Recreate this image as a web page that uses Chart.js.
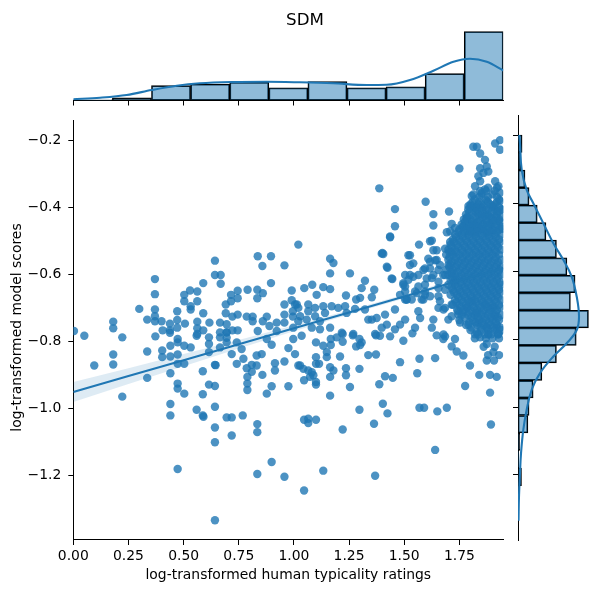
<!DOCTYPE html>
<html><head><meta charset="utf-8">
<script src="https://cdn.jsdelivr.net/npm/chart.js@4.4.1/dist/chart.umd.min.js"></script>
<style>
html,body{margin:0;padding:0;width:601px;height:593px;overflow:hidden;background:#fff;}
canvas{position:absolute;display:block;}
#cTop{left:0;top:0;}
#cMain{left:0;top:105px;}
#cRight{left:508px;top:110px;}
</style></head><body>
<canvas id="cTop" width="510" height="111" style="width:510px;height:111px"></canvas>
<canvas id="cMain" width="510" height="488" style="width:510px;height:488px"></canvas>
<canvas id="cRight" width="95" height="435" style="width:95px;height:435px"></canvas>
<script>
// ---------- text ----------
const chartTitle = 'SDM';
const xTitle = 'log-transformed human typicality ratings';
const yTitle = 'log-transformed model scores';

// ---------- axes ----------
const xRange = [0, 1.949];
const yRange = [-1.392, -0.139];
const xTicks = [0, 0.25, 0.5, 0.75, 1.0, 1.25, 1.5, 1.75];
const yTicks = [-1.2, -1.0, -0.8, -0.6, -0.4, -0.2];

// ---------- scatter points ----------
const lowLeftPoints = [[0.003,-0.768],[0.05,-0.782],[0.095,-0.871],[0.181,-0.838],[0.181,-0.868],[0.222,-0.787],[0.222,-0.964],[0.335,-0.829],[0.335,-0.908],[0.372,-0.784],[0.403,-0.826],[0.403,-0.846],[0.44,-0.812],[0.44,-0.844],[0.44,-0.894],[0.44,-0.986],[0.44,-1.02],[0.473,-0.792],[0.473,-0.802],[0.473,-0.838],[0.473,-0.866],[0.473,-0.925],[0.473,-0.94],[0.473,-1.18],[0.503,-0.812],[0.503,-0.866],[0.503,-0.955],[0.532,-0.817],[0.559,-0.782],[0.559,-1.003],[0.587,-0.888],[0.587,-0.957],[0.587,-1.02],[0.59,-1.024],[0.615,-0.787],[0.615,-0.807],[0.615,-0.831],[0.615,-0.928],[0.642,-0.869],[0.645,-0.87],[0.642,-0.932],[0.642,-0.994],[0.642,-1.056],[0.642,-1.10],[0.642,-1.333],[0.665,-0.817],[0.665,-0.787],[0.665,-0.772],[0.695,-1.026],[0.718,-1.026],[0.695,-0.802],[0.695,-0.788],[0.695,-0.772],[0.718,-0.837],[0.718,-1.08],[0.741,-0.866],[0.741,-0.802],[0.763,-0.822],[0.771,-0.851],[0.768,-1.02],[0.786,-0.879],[0.809,-0.869],[0.809,-0.89],[0.789,-0.905],[0.789,-0.925],[0.789,-0.944],[0.831,-0.841],[0.854,-0.837],[0.831,-0.871],[0.834,-1.046],[0.834,-1.07],[0.834,-1.195],[0.857,-0.899],[0.877,-0.955],[0.877,-0.792],[0.899,-0.809],[0.899,-0.933],[0.899,-1.159],[0.914,-0.864],[0.914,-0.886],[0.957,-1.203],[0.957,-0.859],[0.975,-0.933],[0.975,-0.819],[0.997,-0.792],[1.005,-0.837],[1.02,-0.871]];

const upLeftPoints = [[0.181,-0.74],[0.181,-0.76],[0.299,-0.702],[0.335,-0.734],[0.37,-0.613],[0.37,-0.658],[0.37,-0.704],[0.37,-0.724],[0.37,-0.739],[0.4,-0.739],[0.405,-0.766],[0.438,-0.746],[0.438,-0.766],[0.438,-0.773],[0.471,-0.709],[0.471,-0.735],[0.471,-0.758],[0.503,-0.66],[0.503,-0.679],[0.506,-0.746],[0.529,-0.647],[0.532,-0.694],[0.532,-0.704],[0.562,-0.65],[0.562,-0.679],[0.562,-0.74],[0.562,-0.76],[0.562,-0.777],[0.589,-0.625],[0.589,-0.715],[0.589,-0.766],[0.617,-0.743],[0.642,-0.558],[0.642,-0.601],[0.668,-0.601],[0.668,-0.627],[0.665,-0.743],[0.691,-0.689],[0.691,-0.715],[0.695,-0.748],[0.695,-0.772],[0.715,-0.66],[0.715,-0.679],[0.721,-0.725],[0.721,-0.766],[0.745,-0.648],[0.745,-0.67],[0.745,-0.719],[0.745,-0.766],[0.79,-0.645],[0.786,-0.725],[0.813,-0.725],[0.813,-0.739],[0.836,-0.545],[0.857,-0.574],[0.896,-0.545],[0.957,-0.572],[0.896,-0.625],[0.834,-0.645],[0.834,-0.67],[0.859,-0.655],[0.836,-0.768],[0.859,-0.739],[0.877,-0.725],[0.889,-0.753],[0.922,-0.743],[0.922,-0.768],[0.957,-0.689],[0.957,-0.719],[0.957,-0.743],[0.99,-0.647],[0.99,-0.676],[0.995,-0.709],[0.995,-0.725],[1.02,-0.51],[1.013,-0.689],[1.02,-0.739],[0.997,-0.758]];

const lowRightPoints = [[1.035,-0.782],[1.046,-0.915],[1.046,-1.033],[1.065,-1.043],[1.065,-1.03],[1.1,-1.033],[1.046,-1.244],[1.1,-0.802],[1.1,-0.846],[1.1,-0.866],[1.1,-0.92],[1.1,-0.928],[1.028,-0.871],[1.043,-0.881],[1.065,-0.886],[1.081,-0.891],[1.088,-0.9],[1.073,-0.905],[1.114,-0.866],[1.133,-0.812],[1.149,-0.831],[1.149,-0.846],[1.167,-0.81],[1.167,-0.792],[1.194,-0.787],[1.221,-0.777],[1.221,-0.8],[1.164,-0.876],[1.179,-0.886],[1.164,-0.905],[1.164,-0.961],[1.133,-1.185],[1.209,-0.844],[1.221,-1.062],[1.236,-0.879],[1.236,-0.9],[1.254,-0.935],[1.267,-0.781],[1.282,-0.814],[1.3,-0.81],[1.307,-0.802],[1.297,-0.792],[1.297,-0.881],[1.297,-1.003],[1.337,-0.84],[1.372,-0.838],[1.363,-1.045],[1.368,-1.2],[1.372,-0.781],[1.39,-0.782],[1.436,-0.784],[1.387,-0.927],[1.403,-0.985],[1.424,-1.014],[1.413,-0.903],[1.448,-0.908],[1.481,-0.861],[1.496,-0.797],[1.537,-0.775],[1.559,-0.894],[1.569,-0.851],[1.569,-0.997],[1.59,-0.997],[1.64,-0.849],[1.64,-1.123],[1.65,-1.008],[1.693,-0.997],[1.647,-0.781],[1.677,-0.792],[1.685,-0.784],[1.73,-0.792],[1.715,-0.814],[1.738,-0.829],[1.768,-0.841],[1.798,-0.871],[1.776,-0.932],[1.84,-0.899],[1.829,-0.773],[1.844,-0.787],[1.874,-0.807],[1.881,-0.778],[1.904,-0.831],[1.874,-0.856],[1.907,-0.856],[1.889,-0.899],[1.919,-0.905],[1.889,-0.952],[1.893,-1.047],[1.927,-0.775]];

const midPoints = [[1.387,-0.342],[1.458,-0.404],[1.458,-0.455],[1.436,-0.486],[1.401,-0.535],[1.405,-0.538],[1.164,-0.552],[1.179,-0.565],[1.164,-0.596],[1.254,-0.596],[1.424,-0.579],[1.446,-0.613],[1.322,-0.618],[1.307,-0.64],[1.364,-0.645],[1.353,-0.667],[1.047,-0.64],[1.083,-0.63],[1.133,-0.637],[1.164,-0.643],[1.103,-0.66],[1.236,-0.662],[1.282,-0.674],[1.3,-0.669],[1.504,-0.601],[1.519,-0.615],[1.496,-0.63],[1.504,-0.65],[1.511,-0.674],[1.519,-0.542],[1.005,-0.689],[1.02,-0.699],[1.065,-0.689],[1.065,-0.709],[1.096,-0.699],[1.133,-0.694],[1.171,-0.694],[1.201,-0.699],[1.232,-0.694],[1.239,-0.714],[1.277,-0.702],[1.322,-0.704],[1.353,-0.734],[1.375,-0.729],[1.413,-0.719],[1.458,-0.704],[1.504,-0.734],[1.481,-0.749],[1.458,-0.763],[1.028,-0.724],[1.058,-0.734],[1.096,-0.724],[1.118,-0.739],[1.141,-0.714],[1.081,-0.758],[1.118,-0.763],[1.164,-0.758],[1.217,-0.773],[1.269,-0.777],[1.368,-0.777],[1.398,-0.758],[1.421,-0.749],[1.337,-0.734],[1.436,-0.488],[1.398,-0.537],[1.541,-0.566],[1.421,-0.576],[1.443,-0.611],[1.541,-0.606],[1.496,-0.625],[1.481,-0.66],[1.557,-0.655],[1.511,-0.674]];

const upRightPoints = [[1.75,-0.283],[1.597,-0.382],[1.632,-0.419],[1.632,-0.453],[1.703,-0.411],[1.715,-0.448],[1.73,-0.46],[1.708,-0.47],[1.783,-0.434],[1.798,-0.448],[1.821,-0.463],[1.791,-0.47],[1.813,-0.218],[1.829,-0.218],[1.844,-0.238],[1.866,-0.257],[1.874,-0.277],[1.844,-0.282],[1.859,-0.296],[1.881,-0.292],[1.912,-0.208],[1.934,-0.198],[1.934,-0.227],[1.836,-0.306],[1.844,-0.321],[1.821,-0.336],[1.866,-0.345],[1.844,-0.35],[1.813,-0.36],[1.912,-0.321],[1.927,-0.336],[1.934,-0.355],[1.934,-0.38],[1.912,-0.39],[1.806,-0.365],[1.851,-0.355],[1.874,-0.38],[1.806,-0.395],[1.836,-0.39],[1.791,-0.395],[1.821,-0.4],[1.851,-0.4],[1.881,-0.405],[1.904,-0.395],[1.919,-0.41],[1.942,-0.405],[1.783,-0.431],[1.768,-0.455],[1.836,-0.42],[1.866,-0.424],[1.897,-0.429],[1.927,-0.439],[1.889,-0.448],[1.859,-0.448],[1.829,-0.443],[1.806,-0.458],[1.851,-0.463],[1.904,-0.468],[1.942,-0.463],[1.821,-0.473],[1.874,-0.473]];

const clusterEdgePoints = [[1.567,-0.51],[1.617,-0.5],[1.647,-0.527],[1.647,-0.556],[1.617,-0.561],[1.594,-0.581],[1.564,-0.601],[1.526,-0.542],[1.526,-0.571],[1.526,-0.601],[1.504,-0.635],[1.693,-0.473],[1.708,-0.502],[1.685,-0.522],[1.715,-0.532],[1.655,-0.586],[1.625,-0.61],[1.594,-0.63],[1.564,-0.635],[1.549,-0.65],[1.655,-0.621],[1.685,-0.601],[1.715,-0.596],[1.7,-0.571],[1.73,-0.615],[1.504,-0.674],[1.534,-0.674],[1.579,-0.674],[1.594,-0.66],[1.655,-0.664],[1.685,-0.645],[1.655,-0.699],[1.678,-0.704],[1.715,-0.724],[1.745,-0.719],[1.783,-0.699],[1.806,-0.679],[1.866,-0.689],[1.897,-0.699],[1.912,-0.724],[1.829,-0.714],[1.564,-0.709],[1.572,-0.729],[1.632,-0.734],[1.7,-0.734],[1.549,-0.758],[1.625,-0.758],[1.678,-0.778],[1.753,-0.743],[1.791,-0.749],[1.836,-0.743],[1.874,-0.758],[1.919,-0.758],[1.821,-0.778],[1.881,-0.778],[1.927,-0.778],[1.625,-0.498],[1.632,-0.527],[1.609,-0.552],[1.64,-0.557],[1.662,-0.571],[1.617,-0.581],[1.587,-0.586],[1.602,-0.611],[1.632,-0.601],[1.677,-0.601],[1.594,-0.65],[1.617,-0.664],[1.655,-0.64],[1.587,-0.674],[1.662,-0.679],[1.685,-0.699],[1.715,-0.689],[1.745,-0.709]];

// dense core of the cloud: rows of [score, [ratings...]]
const denseRows = [
 [-0.34,[1.88,1.92]],
 [-0.36,[1.85,1.90]],
 [-0.375,[1.82,1.87,1.93]],
 [-0.39,[1.80,1.85,1.89]],
 [-0.405,[1.79,1.83,1.87,1.91,1.94]],
 [-0.42,[1.78,1.81,1.85,1.88,1.92]],
 [-0.435,[1.77,1.80,1.84,1.87,1.90,1.93]],
 [-0.45,[1.76,1.79,1.82,1.86,1.89,1.92]],
 [-0.465,[1.75,1.78,1.81,1.84,1.87,1.90,1.93]],
 [-0.48,[1.73,1.76,1.79,1.82,1.85,1.88,1.91,1.94]],
 [-0.495,[1.72,1.75,1.78,1.81,1.84,1.87,1.90,1.93]],
 [-0.51,[1.71,1.74,1.77,1.80,1.83,1.86,1.89,1.92]],
 [-0.525,[1.70,1.73,1.76,1.79,1.82,1.85,1.88,1.91,1.94]],
 [-0.54,[1.69,1.72,1.75,1.78,1.81,1.84,1.87,1.90,1.93]],
 [-0.555,[1.70,1.73,1.76,1.79,1.82,1.85,1.88,1.91,1.94]],
 [-0.57,[1.71,1.74,1.77,1.80,1.83,1.86,1.89,1.92]],
 [-0.585,[1.69,1.72,1.75,1.78,1.81,1.84,1.87,1.90,1.93]],
 [-0.60,[1.70,1.73,1.76,1.79,1.82,1.85,1.88,1.91,1.94]],
 [-0.615,[1.71,1.74,1.77,1.80,1.83,1.86,1.89,1.92]],
 [-0.63,[1.70,1.73,1.76,1.79,1.82,1.85,1.88,1.91,1.94]],
 [-0.645,[1.72,1.75,1.78,1.81,1.84,1.87,1.90,1.93]],
 [-0.66,[1.71,1.74,1.77,1.80,1.83,1.86,1.89,1.92]],
 [-0.675,[1.73,1.76,1.79,1.82,1.85,1.88,1.91,1.94]],
 [-0.69,[1.72,1.75,1.78,1.81,1.84,1.87,1.90,1.93]],
 [-0.705,[1.74,1.77,1.80,1.83,1.86,1.89,1.92]],
 [-0.72,[1.76,1.79,1.82,1.85,1.88,1.91,1.94]],
 [-0.735,[1.75,1.81,1.84,1.87,1.90,1.93]],
 [-0.75,[1.78,1.83,1.86,1.89,1.92]],
 [-0.765,[1.80,1.85,1.88,1.91,1.94]],
 [-0.79,[1.82,1.87,1.90,1.93]],
 [-0.815,[1.86,1.91]],
 [-0.84,[1.88,1.93]]
];
// second, interleaved layer of the dense core
const denseRows2 = [
 [-0.35,[1.87,1.91]],
 [-0.3675,[1.84,1.88,1.92]],
 [-0.3825,[1.81,1.84,1.88,1.92]],
 [-0.3975,[1.80,1.83,1.86,1.90,1.93]],
 [-0.4125,[1.795,1.825,1.855,1.895,1.925]],
 [-0.4275,[1.785,1.82,1.855,1.885,1.915,1.94]],
 [-0.4425,[1.775,1.81,1.835,1.875,1.905,1.935]],
 [-0.4575,[1.765,1.795,1.83,1.855,1.885,1.915,1.94]],
 [-0.4725,[1.745,1.77,1.80,1.83,1.86,1.89,1.92]],
 [-0.4875,[1.735,1.765,1.795,1.825,1.855,1.885,1.915]],
 [-0.5025,[1.725,1.755,1.785,1.815,1.845,1.875,1.905,1.935]],
 [-0.5175,[1.715,1.745,1.775,1.805,1.835,1.865,1.895,1.925]],
 [-0.5325,[1.705,1.735,1.765,1.795,1.825,1.855,1.885,1.915]],
 [-0.5475,[1.705,1.735,1.765,1.795,1.825,1.855,1.885,1.915]],
 [-0.5625,[1.715,1.745,1.775,1.805,1.835,1.865,1.895,1.925]],
 [-0.5775,[1.705,1.735,1.765,1.795,1.825,1.855,1.885,1.915,1.94]],
 [-0.5925,[1.715,1.745,1.775,1.805,1.835,1.865,1.895,1.925]],
 [-0.6075,[1.715,1.745,1.775,1.805,1.835,1.865,1.895,1.925]],
 [-0.6225,[1.725,1.755,1.785,1.815,1.845,1.875,1.905,1.935]],
 [-0.6375,[1.715,1.745,1.775,1.805,1.835,1.865,1.895,1.925]],
 [-0.6525,[1.725,1.755,1.785,1.815,1.845,1.875,1.905,1.935]],
 [-0.6675,[1.745,1.775,1.805,1.835,1.865,1.895,1.925]],
 [-0.6825,[1.735,1.765,1.795,1.825,1.855,1.885,1.915]],
 [-0.6975,[1.755,1.785,1.815,1.845,1.875,1.905,1.935]],
 [-0.7125,[1.765,1.795,1.825,1.855,1.885,1.915]],
 [-0.7275,[1.775,1.805,1.835,1.865,1.895,1.925]],
 [-0.7425,[1.795,1.825,1.855,1.885,1.915]],
 [-0.7575,[1.805,1.845,1.875,1.905,1.935]],
 [-0.7775,[1.835,1.865,1.895,1.925]]
];

// ---------- regression line and confidence band ----------
const regX     = [0, 0.25, 0.5, 0.75, 1.0, 1.25, 1.5, 1.75, 1.949];
const regY     = [-0.950, -0.9025, -0.855, -0.8075, -0.760, -0.7125, -0.665, -0.6175, -0.580];
const regUpper = [-0.920, -0.879, -0.837, -0.795, -0.751, -0.706, -0.659, -0.610, -0.570];
const regLower = [-0.980, -0.926, -0.873, -0.820, -0.769, -0.719, -0.671, -0.625, -0.590];

// ---------- top marginal histogram (ratings) ----------
const topBinCenters = [0.0886, 0.2658, 0.443, 0.6202, 0.7974, 0.9746, 1.1518, 1.329, 1.5062, 1.6834, 1.8606];
const topBinCounts  = [3, 11, 62, 68, 76, 53, 79, 53, 57, 112, 287];
const topKdeX = [0, 0.121, 0.242, 0.355, 0.469, 0.574, 0.724, 0.876, 1.027, 1.178, 1.33, 1.42, 1.526, 1.632, 1.723, 1.798, 1.874, 1.949];
const topKdeY = [5, 11.6, 22.9, 43.7, 61.6, 71.6, 77, 78.2, 75.7, 71.6, 64.5, 65.5, 85.3, 124, 161.4, 173.9, 161.4, 125];

// ---------- right marginal histogram (scores) ----------
const rightBinCenters = [-0.2238,-0.2755,-0.3272,-0.3789,-0.4306,-0.4822,-0.5339,-0.5856,-0.6373,-0.6890,-0.7406,-0.7923,-0.8440,-0.8957,-0.9474,-0.9990,-1.0507,-1.1024,-1.1541,-1.2058,-1.2574,-1.3091];
const rightBinCounts  = [7, 5, 12, 19, 33, 48, 66, 84, 98, 90, 121, 100, 66, 41, 26, 19, 17, 3, 1, 6, 1, 1];
const rightKdeY = [-0.198,-0.222,-0.301,-0.36,-0.399,-0.458,-0.517,-0.566,-0.616,-0.675,-0.733,-0.773,-0.812,-0.851,-0.9,-0.949,-1.008,-1.067,-1.136,-1.195,-1.264,-1.335];
const rightKdeX = [2.2,3.4,6.4,14.9,26.3,43.5,60.7,77.8,92.3,100.9,104.8,100.9,83.7,60.7,37.8,23.5,14.9,9.1,5.2,3.4,1.7,0.9];

// ---------- build ----------
const BLUE = '#1f77b4';
Chart.defaults.font.family = "'DejaVu Sans', sans-serif";
Chart.defaults.font.size = 13.9;
Chart.defaults.color = '#000';
Chart.defaults.animation = false;
Chart.defaults.plugins.legend.display = false;
Chart.defaults.plugins.tooltip.enabled = false;

const densePoints = [];
denseRows.concat(denseRows2).forEach(([y, xs]) => xs.forEach(x => densePoints.push([x, y])));
const allPoints = [].concat(lowLeftPoints, upLeftPoints, lowRightPoints, midPoints, upRightPoints, clusterEdgePoints, densePoints)
  .map(([x, y]) => ({x, y}));
const zip = (xs, ys) => xs.map((x, i) => ({x, y: ys[i]}));
const minusFmt = v => (v < 0 ? '\u2212' : '') + Math.abs(v).toFixed(1);

const tickGrid = {display: true, offset: false, drawOnChartArea: false, drawTicks: true, tickLength: 5, color: '#000', lineWidth: 1};
const spine = {display: true, color: '#000', width: 1};

// Main joint plot
new Chart(document.getElementById('cMain'), {
  type: 'scatter',
  data: { datasets: [
    { type: 'line', data: zip(regX, regY), borderColor: BLUE, borderWidth: 2.1, pointRadius: 0, fill: false, order: 0 },
    { type: 'line', data: zip(regX, regUpper), borderWidth: 0, pointRadius: 0, fill: '+1', backgroundColor: 'rgba(31,119,180,0.15)', order: 1 },
    { type: 'line', data: zip(regX, regLower), borderWidth: 0, pointRadius: 0, fill: false, order: 1 },
    { type: 'scatter', data: allPoints, backgroundColor: 'rgba(31,119,180,0.8)', borderWidth: 0, pointRadius: 4.2, order: 2 }
  ]},
  options: {
    responsive: false,
    layout: { padding: { top: 10, right: 6.7, left: 0, bottom: 0 } },
    scales: {
      x: { type: 'linear', position: 'bottom', min: xRange[0], max: xRange[1],
        afterBuildTicks: s => { s.ticks = xTicks.map(v => ({value: v})); },
        afterFit: s => { s.height = 53; },
        ticks: { callback: v => Number(v).toFixed(2), padding: 3, maxRotation: 0, autoSkip: false, color: '#000' },
        grid: tickGrid, border: spine },
      y: { type: 'linear', position: 'left', min: yRange[0], max: yRange[1],
        afterBuildTicks: s => { s.ticks = yTicks.map(v => ({value: v})); },
        afterFit: s => { s.width = 73.3; },
        ticks: { callback: v => minusFmt(Number(v)), padding: 7, autoSkip: false, color: '#000' },
        grid: tickGrid, border: spine }
    }
  },
  plugins: [{ id: 'axisTitles', afterDraw(chart) {
    const c = chart.ctx; c.save();
    c.fillStyle = '#000'; c.font = "13.9px 'DejaVu Sans', sans-serif";
    c.textAlign = 'center'; c.textBaseline = 'alphabetic';
    c.fillText(xTitle, 288.3, 474);
    c.translate(20.5, 222.5); c.rotate(-Math.PI / 2);
    c.fillText(yTitle, 0, 0);
    c.restore();
  }}]
});

// Top marginal
new Chart(document.getElementById('cTop'), {
  type: 'bar',
  data: { datasets: [
    { type: 'line', data: zip(topKdeX, topKdeY), borderColor: BLUE, borderWidth: 2.1, pointRadius: 0, fill: false, cubicInterpolationMode: 'monotone', order: 0 },
    { type: 'bar', data: zip(topBinCenters, topBinCounts), backgroundColor: 'rgba(31,119,180,0.5)', borderColor: '#000', borderWidth: 1.1, borderSkipped: false, barPercentage: 1, categoryPercentage: 1, order: 1 }
  ]},
  options: {
    responsive: false,
    layout: { padding: { top: 15.5, left: 73.3, right: 6.7, bottom: 0 } },
    scales: {
      x: { type: 'linear', min: xRange[0], max: xRange[1], offset: false,
        afterBuildTicks: s => { s.ticks = xTicks.map(v => ({value: v})); },
        afterFit: s => { s.height = 10.5; },
        ticks: { display: false }, grid: tickGrid, border: spine },
      y: { display: false, min: 0, max: 354 }
    }
  },
  plugins: [{ id: 'title', afterDraw(chart) {
    const c = chart.ctx; c.save();
    c.fillStyle = '#000'; c.font = "16.7px 'DejaVu Sans', sans-serif";
    c.textAlign = 'center'; c.textBaseline = 'alphabetic';
    c.fillText(chartTitle, 305, 25);
    c.restore();
  }}]
});

// Right marginal
new Chart(document.getElementById('cRight'), {
  type: 'bar',
  data: { datasets: [
    { type: 'line', indexAxis: 'y', data: zip(rightKdeX, rightKdeY), borderColor: BLUE, borderWidth: 2.1, pointRadius: 0, fill: false, tension: 0.4, order: 0 },
    { type: 'bar', data: rightBinCenters.map((y, i) => ({x: rightBinCounts[i], y})), backgroundColor: 'rgba(31,119,180,0.5)', borderColor: '#000', borderWidth: 1.1, borderSkipped: false, barPercentage: 1, categoryPercentage: 1, order: 1 }
  ]},
  options: {
    responsive: false,
    indexAxis: 'y',
    layout: { padding: { top: 5, bottom: 5, left: 0, right: 0 } },
    scales: {
      y: { type: 'linear', position: 'left', min: yRange[0], max: yRange[1], offset: false,
        afterBuildTicks: s => { s.ticks = yTicks.map(v => ({value: v})); },
        afterFit: s => { s.width = 10; },
        ticks: { display: false }, grid: tickGrid, border: spine },
      x: { display: false, min: 0, max: 146 }
    }
  }
});
</script>
</body></html>
